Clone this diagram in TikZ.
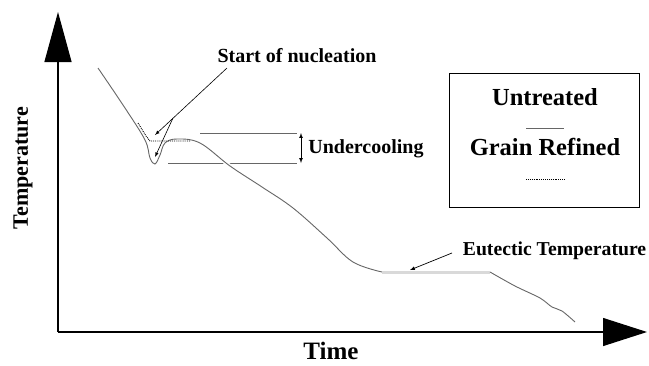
\documentclass[tikz,border=0pt]{standalone}
\usepackage{fontspec}
\setmainfont{Liberation Serif}
\usetikzlibrary{arrows.meta}
\tikzset{
  lbl/.style={font=\fontsize{20}{22}\selectfont\bfseries,inner sep=0pt,anchor=base},
  big/.style={font=\fontsize{24.5}{26}\selectfont\bfseries,inner sep=0pt,anchor=base},
  curve/.style={gray!80!black,line width=0.9pt},
}
\begin{document}
\begin{tikzpicture}[x=1pt,y=-1pt,>=latex]
	\useasboundingbox (0,0) rectangle (649,365);
	%axes
	\coordinate (O) at (58,332);
	\coordinate (ytip) at (58,12);
	\coordinate (xtip) at (647,332);
	\draw[line width=1.2pt,-{Triangle[length=50pt,width=27pt]}] (O)--(ytip);
	\draw[line width=1.2pt,-{Triangle[length=44pt,width=28pt]}] (O)--(xtip);
	\node[rotate=90,font=\fontsize{22}{24}\selectfont\bfseries,inner sep=0pt] (temp) at (23,168) {Temperature};
	\node[big,font=\fontsize{25}{27}\selectfont\bfseries] (time) at (331,359) {Time};
	%undercooling marks
	\draw[gray!80!black,line width=0.7pt] (200,133)--(297,133);
	\draw[gray!80!black,line width=0.7pt] (168,163)--(297,163);
	\coordinate (u1) at (301,133);
	\coordinate (u2) at (301,163);
	\draw[<->,line width=0.7pt] (u1)--(u2);
	\node[lbl] (under) at (366,153) {Undercooling};
	%cooling curve, untreated
	\draw[curve,preaction={draw,white,line width=4pt}] plot[smooth,tension=0.6] coordinates {(98,68) (125,108) (145,140) (150,158) (155,164) (160,155) (165,143) (177,139) (200,143) (230,166) (262,187) (293,208) (327,238) (353,262) (382,272)};
	\draw[gray!30,line width=3pt] (382,272)--(490,272);
	\draw[curve] plot[smooth,tension=0.5] coordinates {(490,272) (515,286) (540,298) (552,307) (562,311) (575,322)};
	%grain refined
	\draw[densely dotted,line width=0.9pt] (138,123)--(146,136)--(150,141)--(190,141);
	%start of nucleation
	\node[lbl] (start) at (297,62) {Start of nucleation};
	\coordinate (s1) at (227,68);
	\coordinate (n1) at (155,135);
	\coordinate (b1) at (173,118);
	\coordinate (n2) at (155,157);
	\draw[->,line width=0.6pt] (s1)--(n1);
	\draw[->,line width=0.6pt] (b1)--(n2);
	%eutectic
	\node[lbl,font=\fontsize{19.7}{22}\selectfont\bfseries] (eut) at (554.5,255) {Eutectic Temperature};
	\coordinate (e1) at (452,253);
	\coordinate (e2) at (410,270);
	\draw[->,line width=0.7pt] (e1)--(e2);
	%legend
	\node[draw,line width=0.8pt,minimum width=190pt,minimum height=134pt] (legend) at (544,140) {};
	\node[big] (untr) at (545,105) {Untreated};
	\node[big] (refi) at (545,155) {Grain Refined};
	\draw[curve] (526,128)--(564,128);
	\draw[densely dotted,line width=0.9pt] (526,179)--(565,179);
\end{tikzpicture}
\end{document}
